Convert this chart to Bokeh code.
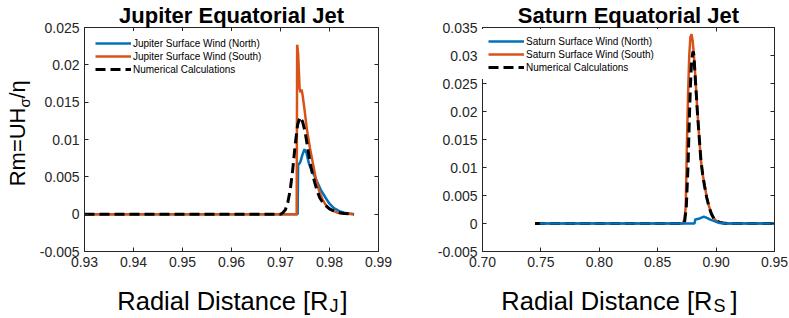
import math
from bokeh.plotting import figure
from bokeh.models import Range1d, FixedTicker, LinearAxis, Legend, LegendItem, Label
from bokeh.layouts import row, column
from bokeh.embed import file_html
from bokeh.resources import INLINE

# ---------------- data ----------------
# Jupiter
jup_north_x = [0.930, 0.9735, 0.9736, 0.9740, 0.9745, 0.9749, 0.9753, 0.9758, 0.9763, 0.9768,
               0.9775, 0.9782, 0.9792, 0.9800, 0.9809, 0.9820, 0.9830, 0.9840, 0.9850]
jup_north_y = [0, 0, 0.0066, 0.0069, 0.0080, 0.0087, 0.0082, 0.0068, 0.0059, 0.0053,
               0.0043, 0.0033, 0.0022, 0.0014, 0.0008, 0.0004, 0.0002, 0.0001, 0.0]
jup_south_x = [0.930, 0.9733, 0.9734, 0.9736, 0.9739, 0.9741, 0.9743, 0.9745, 0.9750, 0.9754,
               0.9760, 0.9765, 0.9772, 0.9778, 0.9786, 0.9795, 0.9805, 0.9816, 0.9830, 0.9850]
jup_south_y = [0, 0, 0.0227, 0.0215, 0.0168, 0.0163, 0.0167, 0.0160, 0.0135, 0.0113,
               0.0089, 0.0072, 0.0048, 0.0033, 0.0019, 0.0010, 0.0005, 0.0002, 0.0001, 0.0]
jup_calc_x = [0.930, 0.9700, 0.9705, 0.9710, 0.9715, 0.9720, 0.9725, 0.9730, 0.9735, 0.9740,
              0.9745, 0.9750, 0.9755, 0.9760, 0.9765, 0.9770, 0.9775, 0.9780, 0.9785, 0.9790,
              0.9800, 0.9810, 0.9820, 0.9830, 0.9850]
jup_calc_y = [0, 0, 0.0002, 0.0006, 0.0016, 0.0033, 0.0060, 0.0093, 0.0120, 0.0130,
              0.0124, 0.0111, 0.0091, 0.0070, 0.0055, 0.0042, 0.0031, 0.0022, 0.0017, 0.0013,
              0.0007, 0.0004, 0.0002, 0.0001, 0.0]

# Saturn
sat_north_x = [0.749, 0.8700, 0.8815, 0.8822, 0.8840, 0.8860, 0.8880, 0.8895, 0.8910, 0.8930,
               0.8950, 0.8975, 0.9000, 0.9030, 0.9070, 0.9100, 0.9500]
sat_north_y = [0, 0, 0, 0.0007, 0.0008, 0.0009, 0.0011, 0.0012, 0.0011, 0.0009,
               0.0007, 0.0005, 0.0003, 0.0001, 0.00003, 0, 0]
sat_south_x = [0.745, 0.8715, 0.8730, 0.8740, 0.8750, 0.8760, 0.8770, 0.8780, 0.8790, 0.8800,
               0.8810, 0.8820, 0.8830, 0.8840, 0.8855, 0.8870, 0.8885, 0.8900, 0.8920, 0.8940,
               0.8960, 0.8980, 0.9000, 0.9030, 0.9060, 0.9100, 0.9500]
sat_south_y = [0, 0, 0.0008, 0.0030, 0.0140, 0.0230, 0.0300, 0.0333, 0.0338, 0.0325,
               0.0300, 0.0270, 0.0235, 0.0200, 0.0155, 0.0113, 0.0088, 0.0070, 0.0047, 0.0030,
               0.0018, 0.0010, 0.0005, 0.0002, 0.0001, 0.0, 0.0]
sat_calc_x = [0.745, 0.8720, 0.8730, 0.8745, 0.8760, 0.8770, 0.8780, 0.8790, 0.8800, 0.8805,
              0.8810, 0.8820, 0.8830, 0.8840, 0.8855, 0.8870, 0.8885, 0.8900, 0.8920, 0.8940,
              0.8960, 0.8980, 0.9000, 0.9030, 0.9060, 0.9100, 0.9500]
sat_calc_y = [0, 0, 0.0002, 0.0030, 0.0105, 0.0180, 0.0245, 0.0290, 0.0305, 0.0307,
              0.0300, 0.0265, 0.0232, 0.0198, 0.0155, 0.0113, 0.0088, 0.0068, 0.0046, 0.0029,
              0.0017, 0.0009, 0.0005, 0.0002, 0.0001, 0.0, 0.0]

# ticks
jup_xticks = [0.93, 0.94, 0.95, 0.96, 0.97, 0.98, 0.99]
jup_xtick_labels = ["0.93", "0.94", "0.95", "0.96", "0.97", "0.98", "0.99"]
jup_yticks = [-0.005, 0, 0.005, 0.01, 0.015, 0.02, 0.025]
jup_ytick_labels = ["-0.005", "0", "0.005", "0.01", "0.015", "0.02", "0.025"]
sat_xticks = [0.70, 0.75, 0.80, 0.85, 0.90, 0.95]
sat_xtick_labels = ["0.70", "0.75", "0.80", "0.85", "0.90", "0.95"]
sat_yticks = [-0.005, 0, 0.005, 0.01, 0.015, 0.02, 0.025, 0.03, 0.035]
sat_ytick_labels = ["-0.005", "0", "0.005", "0.01", "0.015", "0.02", "0.025", "0.03", "0.035"]

BLUE = "#0072BD"
ORANGE = "#D95319"
AX = "#262626"
FONT = "Liberation Sans"


def make_fig(title, width, bl, br, xr, yr, xt, xl, yt, yl):
    p = figure(title=title, width=width, height=276, x_range=Range1d(*xr), y_range=Range1d(*yr),
               output_backend="svg", toolbar_location=None,
               min_border_left=bl, min_border_right=br, min_border_top=26, min_border_bottom=25)
    p.title.align = "center"
    p.title.text_font = FONT
    p.title.text_font_size = "22px"
    p.title.text_font_style = "bold"
    p.title.text_color = "black"
    p.title.standoff = 0
    p.title.offset = 0
    p.grid.visible = False
    p.outline_line_color = AX
    p.outline_line_width = 1
    p.background_fill_color = "white"
    p.border_fill_color = "white"
    for ax in (p.xaxis[0], p.yaxis[0]):
        ax.axis_line_color = AX
        ax.major_tick_line_color = AX
        ax.major_tick_in = 4
        ax.major_tick_out = 0
        ax.minor_tick_out = 0
        ax.minor_tick_line_color = None
        ax.major_label_text_font = FONT
        ax.major_label_text_font_size = "14px"
        ax.major_label_text_color = AX
        ax.major_label_standoff = 5
    p.xaxis.ticker = FixedTicker(ticks=xt)
    p.xaxis.major_label_overrides = {t: s for t, s in zip(xt, xl)}
    p.yaxis.ticker = FixedTicker(ticks=yt)
    p.yaxis.major_label_overrides = {t: s for t, s in zip(yt, yl)}
    # mirrored ticks on top / right
    for ticks, place in ((xt, "above"), (yt, "right")):
        ax = LinearAxis(ticker=FixedTicker(ticks=ticks), major_label_overrides={t: "" for t in ticks},
                        major_tick_in=4, major_tick_out=0, minor_tick_out=0, minor_tick_line_color=None,
                        axis_line_color=AX, major_tick_line_color=AX, major_label_standoff=0)
        p.add_layout(ax, place)
    return p


def strip(width, height):
    s = figure(width=width, height=height, x_range=Range1d(0, 1), y_range=Range1d(0, 1),
               output_backend="svg", toolbar_location=None, title_location=None,
               x_axis_type=None, y_axis_type=None, min_border=0)
    s.outline_line_color = None
    s.background_fill_color = "white"
    s.border_fill_color = "white"
    return s


def txt(p, x, y, s, size, align="left", angle=0.0):
    p.add_layout(Label(x=x, y=y, x_units="screen", y_units="screen", text=s,
                       text_font=FONT, text_font_size=size, text_align=align,
                       text_baseline="alphabetic", text_color="black", angle=angle))


legend_style = dict(margin=0, padding=6, label_text_font=FONT, label_text_font_size="10px",
                    label_text_color="black", glyph_width=36, glyph_height=12, label_height=12,
                    label_standoff=2, spacing=1, border_line_alpha=0,
                    background_fill_color="white", background_fill_alpha=1)

# ---------------- Jupiter ----------------
p1 = make_fig("Jupiter Equatorial Jet", 358, 50, 14, (0.93, 0.99), (-0.005, 0.025),
              jup_xticks, jup_xtick_labels, jup_yticks, jup_ytick_labels)
rjn = p1.line(jup_north_x, jup_north_y, line_color=BLUE, line_width=2.5)
rjs = p1.line(jup_south_x, jup_south_y, line_color=ORANGE, line_width=2.5)
rjc = p1.line(jup_calc_x, jup_calc_y, line_color="black", line_width=3, line_dash="10 5")
p1.add_layout(Legend(items=[LegendItem(label="Jupiter Surface Wind (North)", renderers=[rjn]),
                            LegendItem(label="Jupiter Surface Wind (South)", renderers=[rjs]),
                            LegendItem(label="Numerical Calculations", renderers=[rjc])],
                     location=(5, 170), **legend_style), "center")

y1 = strip(34, 276)
txt(y1, 17, 169, "Rm=UH", "22px", "right", angle=math.pi / 2)
txt(y1, 24, 169, "σ", "15px", "left", angle=math.pi / 2)
txt(y1, 17, 178, "/η", "22px", "left", angle=math.pi / 2)
x1 = strip(392, 40)
txt(x1, 328, 16, "Radial Distance [R", "25.5px", "right")
txt(x1, 329, 11, "J", "18px")
txt(x1, 340, 16, "]", "25.5px")

# ---------------- Saturn ----------------
p2 = make_fig("Saturn Equatorial Jet", 397, 90, 15, (0.70, 0.95), (-0.005, 0.035),
              sat_xticks, sat_xtick_labels, sat_yticks, sat_ytick_labels)
rss = p2.line(sat_south_x, sat_south_y, line_color=ORANGE, line_width=2.5)
rsc = p2.line(sat_calc_x, sat_calc_y, line_color="black", line_width=3, line_dash="10 5")
rsn = p2.line(sat_north_x, sat_north_y, line_color=BLUE, line_width=2.5)
p2.add_layout(Legend(items=[LegendItem(label="Saturn Surface Wind (North)", renderers=[rsn]),
                            LegendItem(label="Saturn Surface Wind (South)", renderers=[rss]),
                            LegendItem(label="Numerical Calculations", renderers=[rsc])],
                     location=(0, 172), **legend_style), "center")

x2 = strip(397, 40)
txt(x2, 320, 16, "Radial Distance [R", "25.5px", "right")
txt(x2, 321, 11, "S", "18px")
txt(x2, 338, 16, "]", "25.5px")

left = column(row(y1, column(p1)), x1)
right = column(row(p2), x2)
layout = row(left, right)
open("out.html", "w").write(file_html(layout, INLINE))
